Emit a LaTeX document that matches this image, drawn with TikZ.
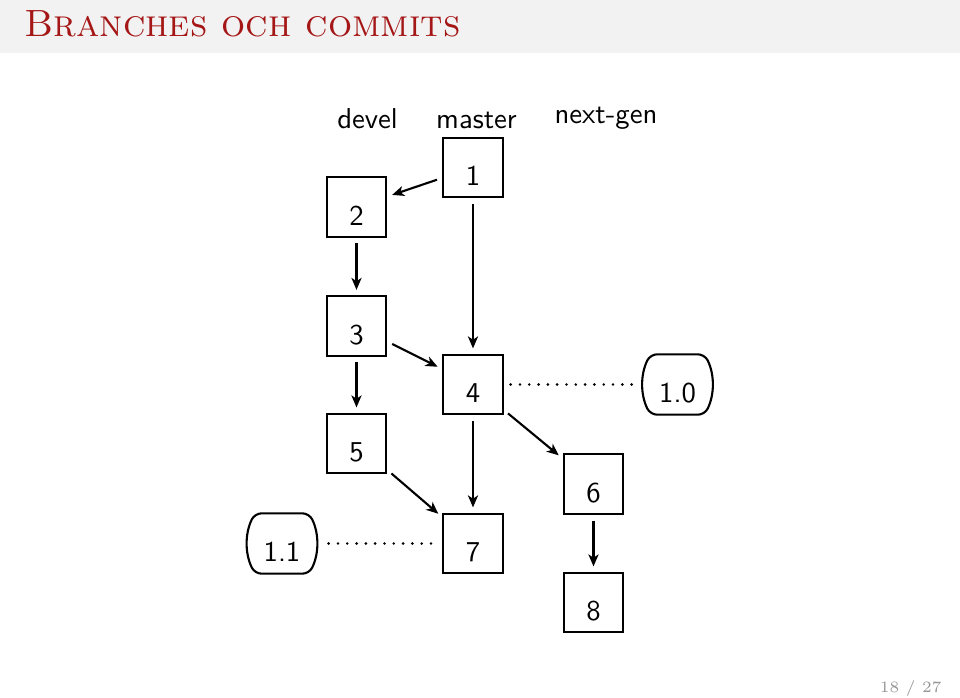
\documentclass[tikz,border=0pt]{standalone}
\usetikzlibrary{arrows.meta}
\definecolor{titlered}{RGB}{165,22,22}
\definecolor{bandgray}{RGB}{242,242,242}
\definecolor{pagegray}{RGB}{150,150,150}
\newcommand\lowtxt[1]{\raisebox{-2.4mm}[0pt][0pt]{#1}}
\begin{document}
\begin{tikzpicture}[x=0.133333mm,y=-0.133333mm,
  every node/.style={font=\sffamily\fontsize{10.9}{13}\selectfont},
  commitbox/.style={draw, line width=0.8pt, minimum width=7.9mm, minimum height=7.95mm, inner sep=0pt},
  tagbox/.style={minimum width=9.1mm, minimum height=7.9mm, inner sep=0pt},
  tagline/.style={line width=0.8pt, rounded corners=2.5pt},
  lbl/.style={anchor=base, inner sep=0pt},
  arr/.style={line width=0.8pt, -{Stealth[length=1.6mm,width=1.35mm,inset=0.45mm]}, shorten <=0.75mm, shorten >=0.7mm},
  dots/.style={line width=1.1pt, line cap=round, dash pattern=on 0pt off 3.53pt}]
\useasboundingbox (0,0) rectangle (960,697);
\fill[bandgray] (0,0) rectangle (960,53);
\node[anchor=base west, inner sep=0pt, font=\rmfamily\fontsize{14.4}{17}\selectfont\scshape, text=titlered] (title) at (24,36) {Branches och commits};
\node[anchor=base east, inner sep=0pt, font=\rmfamily\fontsize{6}{7}\selectfont, text=pagegray] (page) at (942,692) {18 / 27};

\node[lbl] (ldevel) at (367.5,128) {devel};
\node[lbl] (lmaster) at (476.5,128) {master};
\node[lbl] (lnext) at (606,123) {next-gen};

\node[commitbox] (c1) at (473,167.5) {\lowtxt{1}};
\node[commitbox] (c2) at (356.5,207) {\lowtxt{2}};
\node[commitbox] (c3) at (356.5,326) {\lowtxt{3}};
\node[commitbox] (c4) at (473,384.5) {\lowtxt{4}};
\node[commitbox] (c5) at (356.5,443.5) {\lowtxt{5}};
\node[commitbox] (c6) at (593.5,484) {\lowtxt{6}};
\node[commitbox] (c7) at (473,543.5) {\lowtxt{7}};
\node[commitbox] (c8) at (593.5,602.5) {\lowtxt{8}};
\node[tagbox] (t10) at (677.5,384.5) {\lowtxt{1.0}};
\node[tagbox] (t11) at (282,543.5) {\lowtxt{1.1}};
\foreach \t in {t10,t11}{
  \draw[tagline] (\t.north) -- ([xshift=-1mm]\t.north east)
     .. controls +(10,20) and +(10,-20) .. ([xshift=-1mm]\t.south east)
     -- ([xshift=1mm]\t.south west)
     .. controls +(-10,-20) and +(-10,20) .. ([xshift=1mm]\t.north west)
     -- cycle;
}

\draw[arr] (c1) -- (c2);
\draw[arr] (c2) -- (c3);
\draw[arr] (c1) -- (c4);
\draw[arr] (c3) -- (c4);
\draw[arr] (c3) -- (c5);
\draw[arr] (c4) -- (c6);
\draw[arr] (c4) -- (c7);
\draw[arr] (c5) -- (c7);
\draw[arr] (c6) -- (c8);
\draw[dots, shorten <=0.93mm, shorten >=0.53mm] (c4) -- (t10);
\draw[dots, shorten <=1.6mm, shorten >=0.4mm] (t11) -- (c7);
\end{tikzpicture}
\end{document}
